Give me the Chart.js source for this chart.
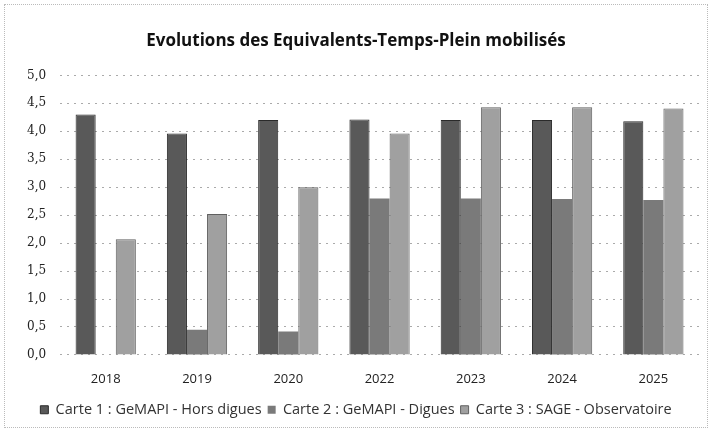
<!DOCTYPE html>
<html>
<head>
<meta charset="utf-8">
<script src="https://cdn.jsdelivr.net/npm/chart.js@4/dist/chart.umd.min.js"></script>
<style>
  html, body { margin: 0; padding: 0; background: #fff; }
  #wrap { position: absolute; left: 4px; top: 4px; width: 704px; height: 424px; border: 1px dotted #bbb; box-sizing: border-box; }
  canvas { display: block; }
</style>
</head>
<body>
<div id="wrap"><canvas id="etpChart"></canvas></div>
<script>
const years = ['2018', '2019', '2020', '2022', '2023', '2024', '2025'];
const horsDigues = [4.30, 3.96, 4.20, 4.21, 4.20, 4.20, 4.18];
const digues = [0, 0.45, 0.42, 2.80, 2.80, 2.79, 2.77];
const observatoire = [2.07, 2.52, 3.00, 3.96, 4.43, 4.43, 4.41];
const seriesNames = ['Carte 1 : GeMAPI - Hors digues', 'Carte 2 : GeMAPI - Digues', 'Carte 3 : SAGE - Observatoire'];

const etpCanvas = document.getElementById('etpChart');
if (etpCanvas) {
    const etpCtx = etpCanvas.getContext('2d');
    const etpChart = new Chart(etpCtx, {
        type: 'bar',
        data: {
            labels: years,
            datasets: [{
                label: seriesNames[0],
                data: horsDigues,
                backgroundColor: '#595959',
                borderColor: '#2a2a2a',
                borderWidth: 1
            }, {
                label: seriesNames[1],
                data: digues,
                backgroundColor: '#7a7a7a',
                borderColor: '#555',
                borderWidth: 0
            }, {
                label: seriesNames[2],
                data: observatoire,
                backgroundColor: '#a0a0a0',
                borderColor: '#606060',
                borderWidth: 1
            }]
        },
        options: {
            responsive: true,
            maintainAspectRatio: false,
            animation: false,
            layout: {
                padding: { left: 8, right: 8, top: 6, bottom: 0 }
            },
            datasets: {
                bar: {
                    categoryPercentage: 0.66,
                    barPercentage: 1
                }
            },
            plugins: {
                title: {
                    display: true,
                    text: 'Evolutions des Equivalents-Temps-Plein mobilisés',
                    color: '#111',
                    font: { family: 'Open Sans', size: 17, weight: 'bold' },
                    padding: { top: 20, bottom: 24 }
                },
                legend: {
                    position: 'bottom',
                    labels: {
                        color: '#333',
                        font: { family: 'Open Sans', size: 14.5 },
                        boxWidth: 8,
                        boxHeight: 8,
                        padding: 6
                    }
                },
                tooltip: { enabled: false }
            },
            scales: {
                y: {
                    min: 0,
                    max: 5,
                    ticks: {
                        stepSize: 0.5,
                        color: '#222',
                        font: { family: 'DejaVu Serif', size: 12 },
                        padding: 14,
                        callback: function(value) {
                            return value.toFixed(1).replace('.', ',');
                        }
                    },
                    grid: {
                        color: '#aaa',
                        drawTicks: false
                    },
                    border: { display: false, dash: [2, 5] }
                },
                x: {
                    grid: { display: false },
                    border: { display: false },
                    ticks: {
                        color: '#222',
                        font: { family: 'Open Sans', size: 13 },
                        padding: 9
                    }
                }
            }
        },
        plugins: [{
            id: 'whiteBg',
            beforeDraw: function(chart) {
                const c = chart.ctx;
                c.save();
                c.fillStyle = '#fff';
                c.fillRect(0, 0, chart.width, chart.height);
                c.restore();
            }
        }]
    });
}
</script>
</body>
</html>
